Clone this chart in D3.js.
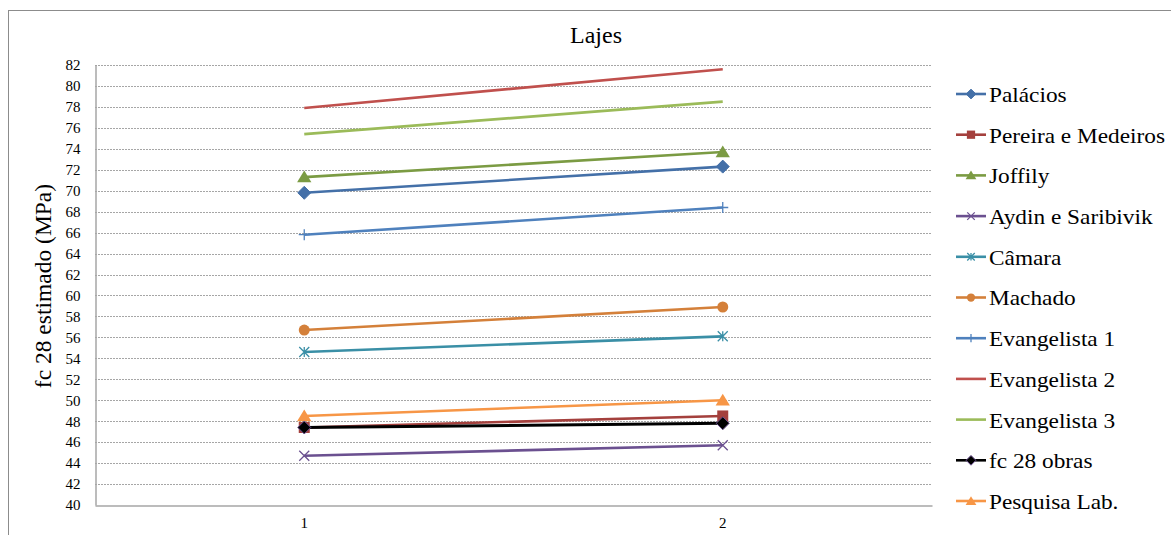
<!DOCTYPE html>
<html><head><meta charset="utf-8">
<script src="https://cdn.jsdelivr.net/npm/d3@7"></script>
<style>body{margin:0;background:#fff}svg text{font-family:"Liberation Serif","Times New Roman","DejaVu Serif",serif}</style>
</head><body><svg id="c" width="1171" height="535"></svg>
<script>
const categories = ["1", "2"];
const yTicks = d3.range(40, 84, 2);
const seriesNames = ["Palácios","Pereira e Medeiros","Joffily","Aydin e Saribivik","Câmara","Machado","Evangelista 1","Evangelista 2","Evangelista 3","fc 28 obras","Pesquisa Lab."];
const palacios = [69.8, 72.3];
const pereira = [47.4, 48.5];
const joffily = [71.3, 73.7];
const aydin = [44.7, 45.7];
const camara = [54.6, 56.1];
const machado = [56.7, 58.9];
const evangelista1 = [65.8, 68.4];
const evangelista2 = [77.9, 81.6];
const evangelista3 = [75.4, 78.5];
const fc28obras = [47.4, 47.8];
const pesquisaLab = [48.5, 50.0];
const seriesValues = [palacios, pereira, joffily, aydin, camara, machado, evangelista1, evangelista2, evangelista3, fc28obras, pesquisaLab];
const colors = ["#4470A8","#A4403D","#7B9B43","#6B5090","#3A8FA6","#D4803A","#4F81BD","#C0504D","#9BBB59","#000000","#F79646"];
const markers = ["diamond","square","triangle","x","star","circle","plus","none","none","diamond","triangle"];
const FF = "'Liberation Serif', 'Times New Roman', 'DejaVu Serif', serif";

const svg = d3.select("#c");
svg.append("rect").attr("x",8.5).attr("y",10.5).attr("width",1170).attr("height",540).attr("fill","#fff").attr("stroke","#8c8c8c");

const L=95, R=932, T=65, B=505;
const x = d3.scaleBand().domain(categories).range([L,R]);
const y = d3.scaleLinear().domain([40,82]).range([B,T]);

svg.append("g").selectAll("line").data(yTicks.filter(d=>d>40)).join("line")
  .attr("x1",L).attr("x2",R).attr("y1",d=>Math.round(y(d))+0.5).attr("y2",d=>Math.round(y(d))+0.5)
  .attr("stroke","#a6a6a6").attr("stroke-dasharray","2,1").attr("stroke-width",1);

const ya = svg.append("g").attr("transform",`translate(${L+0.5},0)`).call(d3.axisLeft(y).tickValues(yTicks).tickSize(0).tickPadding(15));
ya.attr("font-family",FF);
ya.select(".domain").attr("stroke","#a6a6a6").attr("stroke-width",1.5);
ya.selectAll("text").attr("font-family",FF).attr("font-size",15).attr("fill","#000");

const xa = svg.append("g").attr("transform",`translate(0,${B+0.5})`).call(d3.axisBottom(x).tickSize(0).tickPadding(12));
xa.attr("font-family",FF);
xa.select(".domain").attr("stroke","#a6a6a6").attr("stroke-width",1.5);
xa.selectAll("text").attr("font-family",FF).attr("font-size",15).attr("fill","#000");

svg.append("text").attr("x",596).attr("y",43).attr("text-anchor","middle").attr("font-family",FF).attr("font-size",24).text("Lajes");
svg.append("text").attr("transform","translate(51,286) rotate(-90)").attr("text-anchor","middle").attr("font-family",FF).attr("font-size",23.5).text("fc 28 estimado (MPa)");

function drawMarker(g, type, cx, cy, color, i, s){
  s = s||1;
  if(type==="diamond"){
    const r=6.5*s;
    g.append("path").attr("d",`M${cx},${cy-r}L${cx+r},${cy}L${cx},${cy+r}L${cx-r},${cy}Z`)
      .attr("fill",color).attr("stroke", i===9?"#6B5090":color).attr("stroke-width",1);
  } else if(type==="square"){
    g.append("rect").attr("x",cx-5.5*s).attr("y",cy-5.5*s).attr("width",11*s).attr("height",11*s).attr("fill",color);
  } else if(type==="triangle"){
    const r=6.5*s;
    g.append("path").attr("d",`M${cx},${cy-r}L${cx+r*1.1},${cy+r*0.8}L${cx-r*1.1},${cy+r*0.8}Z`).attr("fill",color);
  } else if(type==="circle"){
    g.append("circle").attr("cx",cx).attr("cy",cy).attr("r",5.5*s).attr("fill",color);
  } else if(type==="x"){
    const r=5*s;
    g.append("path").attr("d",`M${cx-r},${cy-r}L${cx+r},${cy+r}M${cx-r},${cy+r}L${cx+r},${cy-r}`).attr("stroke",color).attr("stroke-width",1.3);
  } else if(type==="star"){
    const r=5*s;
    g.append("path").attr("d",`M${cx-r},${cy-r}L${cx+r},${cy+r}M${cx-r},${cy+r}L${cx+r},${cy-r}M${cx},${cy-r}L${cx},${cy+r}`).attr("stroke",color).attr("stroke-width",1.3);
  } else if(type==="plus"){
    const r=5.5*s;
    g.append("path").attr("d",`M${cx-r},${cy}L${cx+r},${cy}M${cx},${cy-r}L${cx},${cy+r}`).attr("stroke",color).attr("stroke-width",1.3);
  }
}

const line = d3.line().x((d,i)=>x(categories[i])+x.bandwidth()/2).y(d=>y(d));
const order = [0,1,2,3,4,5,6,7,8,10,9];
order.forEach(i=>{
  const g = svg.append("g");
  g.append("path").attr("d",line(seriesValues[i])).attr("fill","none").attr("stroke",colors[i]).attr("stroke-width", i===9?3:2.6);
  seriesValues[i].forEach((v,j)=>drawMarker(g, markers[i], x(categories[j])+x.bandwidth()/2, y(v), colors[i], i));
});

const lg = svg.append("g");
seriesNames.forEach((n,i)=>{
  const cy = 94 + i*40.7;
  lg.append("line").attr("x1",956).attr("x2",986).attr("y1",cy).attr("y2",cy).attr("stroke",colors[i]).attr("stroke-width",2.6);
  drawMarker(lg, markers[i], 971, cy, colors[i], i, 0.75);
  lg.append("text").attr("x",989).attr("y",cy+8).attr("font-family",FF).attr("font-size",22)
    .attr("transform",`translate(989,0) scale(1.06,1) translate(-989,0)`).text(n);
});
</script></body></html>
